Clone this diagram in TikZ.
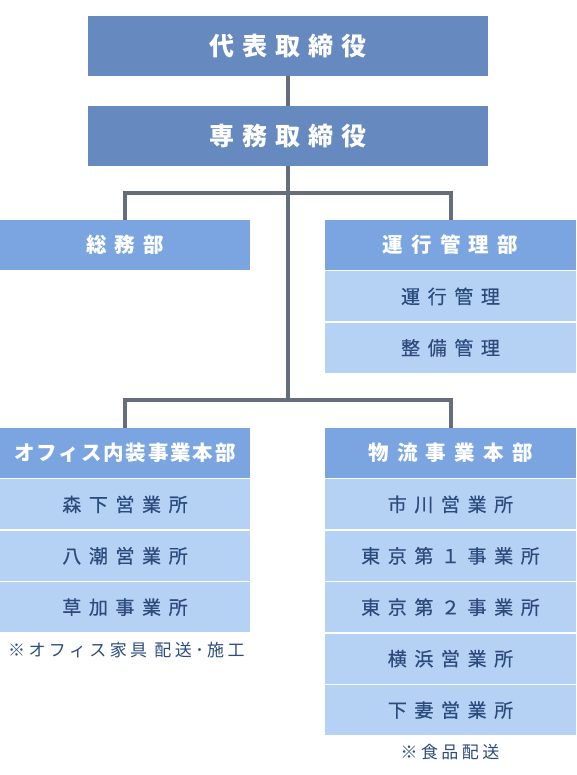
\documentclass[tikz,border=0pt]{standalone}
\usepackage{fontspec}
\newfontfamily\jp{Noto Sans CJK JP}
\newfontfamily\jpmid[FakeBold=0.5]{Noto Sans CJK JP}
\usetikzlibrary{positioning}
\definecolor{execblue}{HTML}{6689C0}
\definecolor{deptblue}{HTML}{7BA5E1}
\definecolor{unitblue}{HTML}{B5D1F3}
\definecolor{unittext}{HTML}{2C4B7D}
\definecolor{linegray}{HTML}{656E7A}

\begin{document}
\begin{tikzpicture}[
  x=1pt, y=-1pt,
  execbox/.style={fill=execblue, text=white, minimum width=400pt,
                  minimum height=60pt, inner sep=0pt,
                  font=\jp\bfseries\fontsize{25}{25}\selectfont\addfontfeatures{LetterSpace=32}},
  deptbox/.style={fill=deptblue, text=white, minimum width=250pt,
                  minimum height=50pt, inner sep=0pt,
                  font=\jp\bfseries\fontsize{20.5}{20.5}\selectfont\addfontfeatures{LetterSpace=#1}},
  deptbox/.default=40,
  unitbox/.style={fill=unitblue, text=unittext, minimum width=250pt,
                  minimum height=50pt, inner sep=0pt,
                  font=\jpmid\fontsize{19}{19}\selectfont\addfontfeatures{LetterSpace=40}},
  note/.style={text=unittext, inner sep=0pt,
               font=\jp\fontsize{17}{17}\selectfont\addfontfeatures{LetterSpace=20}},
  conn/.style={draw=linegray, line width=4pt}
]
\useasboundingbox (0,0) rectangle (576,775);
%--- executives ---------------------------------------------------------------
\node[execbox] (ceo) at (288,46)  {代表取締役};
\node[execbox] (md)  at (288,136) {専務取締役};
%--- upper departments --------------------------------------------------------
\node[deptbox] (soumu) at (125,245) {総務部};
\node[deptbox, minimum width=251pt] (unkou) at (450.5,245) {運行管理部};
\node[unitbox, minimum width=251pt, below=1pt of unkou] (unkoukanri) {運行管理};
\node[unitbox, minimum width=251pt, below=1pt of unkoukanri] (seibi) {整備管理};
%--- office division ----------------------------------------------------------
\node[deptbox=9] (office) at (125,453) {オフィス内装事業本部};
\node[unitbox, below=1pt of office]    (morishita) {森下営業所};
\node[unitbox, below=1pt of morishita] (yashio)    {八潮営業所};
\node[unitbox, below=1pt of yashio]    (soka)      {草加事業所};
\node[note, anchor=west] (officenote) at (8,650) {※オフィス家具 配送･施工};
%--- logistics division -------------------------------------------------------
\node[deptbox, minimum width=251pt] (butsuryu) at (450.5,453) {物流事業本部};
\node[unitbox, minimum width=251pt, below=1pt of butsuryu] (ichikawa)   {市川営業所};
\node[unitbox, minimum width=251pt, below=1pt of ichikawa] (tokyoA)     {東京第１事業所};
\node[unitbox, minimum width=251pt, below=1pt of tokyoA]   (tokyoB)     {東京第２事業所};
\node[unitbox, minimum width=251pt, below=1pt of tokyoB]   (yokohama)   {横浜営業所};
\node[unitbox, minimum width=251pt, below=1pt of yokohama] (shimotsuma) {下妻営業所};
\node[note] (foodnote) at (450,752) {※食品配送};
%--- connectors ---------------------------------------------------------------
\coordinate (barA) at (288,193);
\coordinate (barB) at (288,400);
\draw[conn] (ceo) -- (md);
\draw[conn] (md.south) -- (barB);
\draw[conn] (soumu.north) |- (barA) -| (unkou.north);
\draw[conn] (office.north) |- (barB) -| (butsuryu.north);
\end{tikzpicture}
\end{document}
